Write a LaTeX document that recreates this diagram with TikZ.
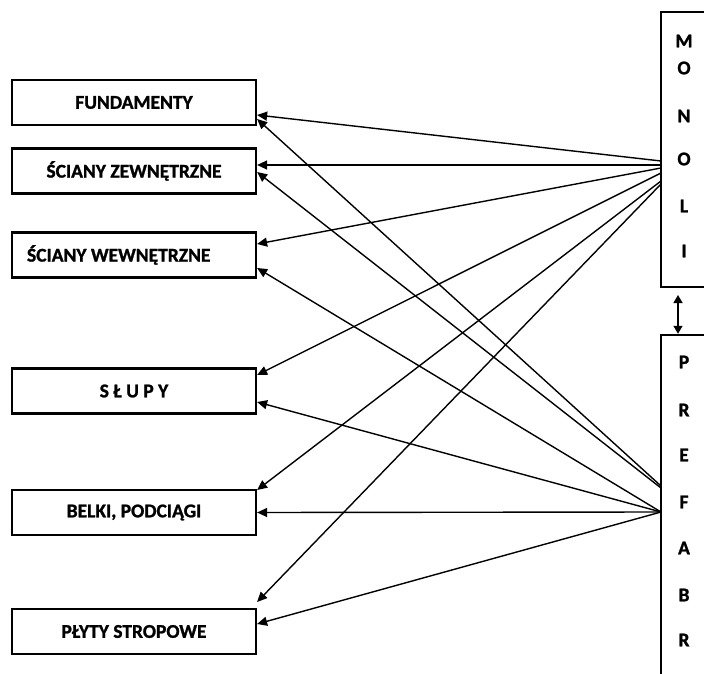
\documentclass[tikz,border=0pt]{standalone}
\usepackage{fontspec}
\setmainfont{Carlito}[BoldFeatures={FakeBold=1.2}]
\usetikzlibrary{arrows.meta}
\tikzset{
  boxnode/.style={draw, line width=2.2pt, minimum width=244pt, minimum height=45pt,
    inner sep=0pt, font=\fontsize{19.5}{23}\selectfont\bfseries},
  sidebox/.style={draw, line width=2.4pt, inner sep=0pt},
  letter/.style={font=\fontsize{19.5}{23}\selectfont\bfseries, inner sep=0pt},
  conn/.style={line width=1.4pt, -{Triangle[length=10pt,width=9pt]}},
  dconn/.style={line width=1.4pt, {Triangle[length=8pt,width=9pt]}-{Triangle[length=8pt,width=9pt]}}
}
\begin{document}
\begin{tikzpicture}[x=1pt,y=-1pt]
\useasboundingbox (0,0) rectangle (704,674);
% left boxes
\node[boxnode] (fund)  at (134,102.5) {FUNDAMENTY};
\node[boxnode] (sz)    at (134,171)   {ŚCIANY ZEWNĘTRZNE};
\node[boxnode] (sw)    at (134,255)   {\makebox[214pt][l]{ŚCIANY WEWNĘTRZNE}};
\node[boxnode] (slupy) at (134,391)   {S Ł U P Y};
\node[boxnode] (belki) at (134,512.5) {BELKI, PODCIĄGI};
\node[boxnode] (plyty) at (134,631.5) {PŁYTY STROPOWE};
% right boxes
\node[sidebox, minimum width=59pt, minimum height=275pt] (mono) at (690.5,149.5) {};
\node[sidebox, minimum width=59pt, minimum height=365pt] (pref) at (690.5,517.5) {};
% letters
\foreach \l/\y [count=\i] in {M/41,O/68,N/116,O/159,L/206,I/251}
  \node[letter] (ml\i) at (684,\y) {\l};
\foreach \l/\y [count=\i] in {P/362,R/410,E/455,F/502,A/548,B/595,R/640}
  \node[letter] (pl\i) at (684,\y) {\l};
% origins
\coordinate (m1) at (661,161);
\coordinate (m2) at (661,165);
\coordinate (m3) at (661,168);
\coordinate (m4) at (661,173);
\coordinate (m5) at (661,181);
\coordinate (m6) at (661,184);
\coordinate (p1) at (661,486);
\coordinate (p2) at (661,488);
\coordinate (p3) at (661,512);
% MONOLI connectors
\draw[conn] (m1) -- ([yshift=-12.5pt]fund.east);
\draw[conn] (m2) -- ([yshift=6pt]sz.east);
\draw[conn] (m3) -- ([yshift=11pt]sw.east);
\draw[conn] (m4) -- ([yshift=16pt]slupy.east);
\draw[conn] (m5) -- ([yshift=22.5pt]belki.east);
\draw[conn] (m6) -- ([yshift=29.5pt]plyty.east);
% PREFABR connectors
\draw[conn] (p1) -- ([yshift=-16.5pt]fund.east);
\draw[conn] (p2) -- ([yshift=-1pt]sz.east);
\draw[conn] (p3) -- ([yshift=-13pt]sw.east);
\draw[conn] (p3) -- ([yshift=-11pt]slupy.east);
\draw[conn] (p3) -- (belki.east);
\draw[conn] (p3) -- ([yshift=7.5pt]plyty.east);
% double arrow
\coordinate (dtop) at (678,295);
\draw[dconn] (dtop) -- (pref.north -| dtop);
\end{tikzpicture}
\end{document}
